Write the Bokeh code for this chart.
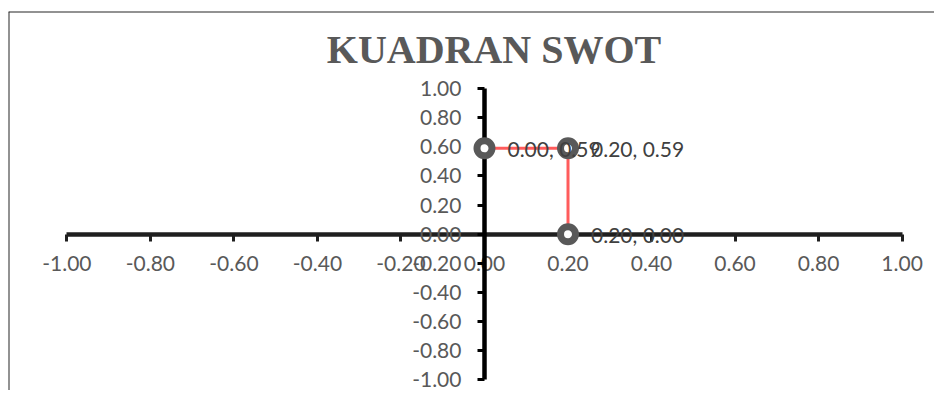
from bokeh.plotting import figure
from bokeh.models import (LinearAxis, FixedTicker, NumeralTickFormatter, Range1d,
                          Span, Label, ColumnDataSource)
from bokeh.core.properties import value
from bokeh.embed import file_html
from bokeh.resources import INLINE

# ---- data ----
TITLE = "KUADRAN SWOT"
X_VALUES = [0.00, 0.20, 0.20]
Y_VALUES = [0.59, 0.59, 0.00]
TICKS = [-1.0, -0.8, -0.6, -0.4, -0.2, 0.0, 0.2, 0.4, 0.6, 0.8, 1.0]
AXIS_MIN, AXIS_MAX = -1.0, 1.0
POINT_LABELS = [f"{x:.2f}, {y:.2f}" for x, y in zip(X_VALUES, Y_VALUES)]

# ---- layout ----
W, H = 934, 390
X_START, X_END = -1.1398, 1.0776
Y_START, Y_END = -1.0728, 1.5293

p = figure(width=W, height=H, output_backend="svg", toolbar_location=None,
           x_axis_location=None, y_axis_location=None,
           x_range=Range1d(X_START, X_END), y_range=Range1d(Y_START, Y_END),
           min_border_left=8, min_border_right=0, min_border_top=11,
           min_border_bottom=0)
p.grid.grid_line_color = None
p.outline_line_color = None
p.background_fill_color = "white"
p.border_fill_color = "white"

LABEL_COLOR = "#595959"


def style_axis(ax, line_color, standoff):
    ax.axis_line_width = 4.5
    ax.axis_line_color = line_color
    ax.major_tick_line_width = 3
    ax.major_tick_line_color = line_color
    ax.major_tick_in = 0
    ax.major_tick_out = 7
    ax.minor_tick_in = 0
    ax.minor_tick_out = 0
    ax.major_label_text_font = "Lato"
    ax.major_label_text_font_size = "21px"
    ax.major_label_text_color = LABEL_COLOR
    ax.major_label_standoff = standoff


xaxis = LinearAxis(fixed_location=0, ticker=FixedTicker(ticks=TICKS),
                   formatter=NumeralTickFormatter(format="0.00"),
                   bounds=(AXIS_MIN, AXIS_MAX))
style_axis(xaxis, "#1f1f1f", 15)
p.add_layout(xaxis, "below")

yaxis = LinearAxis(fixed_location=0, ticker=FixedTicker(ticks=TICKS),
                   formatter=NumeralTickFormatter(format="0.00"),
                   bounds=(AXIS_MIN, AXIS_MAX))
style_axis(yaxis, "#000000", 16)
p.add_layout(yaxis, "left")

src = ColumnDataSource(dict(x=X_VALUES, y=Y_VALUES, label=POINT_LABELS))
r1 = p.line("x", "y", source=src, line_color="#ff5c5c", line_width=3)
r2 = p.scatter("x", "y", source=src, size=15, fill_color="white",
               line_color="#595959", line_width=7)
r3 = p.text("x", "y", text="label", source=src, x_offset=23,
            text_baseline="middle", text_align="left",
            text_font=value("Lato"), text_font_size=value("21px"),
            text_color="#404040")
for r in (r1, r2, r3):
    r.level = "overlay"

# chart border (left and top visible)
p.add_layout(Span(location=X_START, dimension="height",
                  line_color="#262626", line_width=2))
p.add_layout(Span(location=Y_END, dimension="width",
                  line_color="#262626", line_width=2))

title = Label(x=485.5, y=341, x_units="screen", y_units="screen", text=TITLE,
              text_align="center", text_baseline="alphabetic",
              text_font="Liberation Serif", text_font_style="bold",
              text_font_size="40px", text_color=LABEL_COLOR)
p.add_layout(title)

open("out.html", "w").write(file_html(p, INLINE))
